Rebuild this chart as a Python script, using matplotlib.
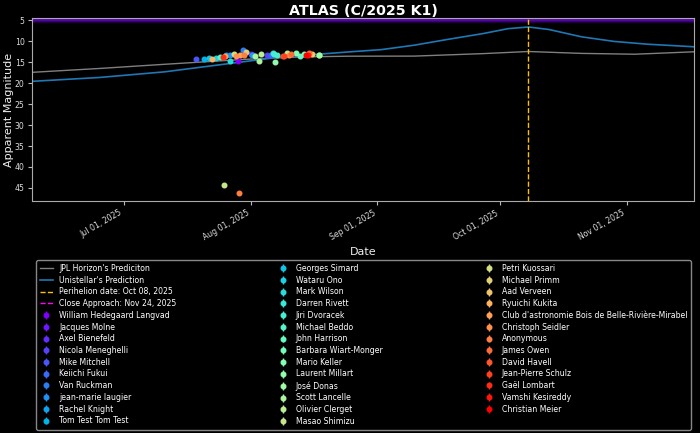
import matplotlib
matplotlib.use("Agg")
import matplotlib.pyplot as plt
import matplotlib.dates as mdates
import numpy as np
from datetime import datetime

# ---------------- data ----------------
jpl_dates = ["2025-06-08", "2025-06-25", "2025-07-11", "2025-07-31", "2025-08-13",
             "2025-08-25", "2025-09-10", "2025-09-27", "2025-10-08", "2025-10-21",
             "2025-11-03", "2025-11-18"]
jpl_mag = [17.45, 16.5, 15.5, 14.3, 13.75, 13.57, 13.55, 12.95, 12.45, 12.9, 13.1, 12.5]

uni_dates = ["2025-06-08", "2025-06-25", "2025-07-11", "2025-07-31", "2025-08-08",
             "2025-08-25", "2025-09-02", "2025-09-10", "2025-09-18", "2025-09-27",
             "2025-10-03", "2025-10-08", "2025-10-13", "2025-10-21", "2025-10-29",
             "2025-11-06", "2025-11-18"]
uni_mag = [19.6, 18.65, 17.3, 14.8, 13.8, 12.55, 12.0, 10.95, 9.6, 8.15,
           7.0, 6.6, 7.2, 8.95, 10.05, 10.7, 11.35]

perihelion = "2025-10-08"
close_approach = "2025-11-24"

observers = ["William Hedegaard Langvad", "Jacques Molne", "Axel Bienefeld",
             "Nicola Meneghelli", "Mike Mitchell", "Keiichi Fukui", "Van Ruckman",
             "jean-marie laugier", "Rachel Knight", "Tom Test Tom Test",
             "Georges Simard", "Wataru Ono", "Mark Wilson", "Darren Rivett",
             "Jiri Dvoracek", "Michael Beddo", "John Harrison", "Barbara Wiart-Monger",
             "Mario Keller", "Laurent Millart", "José Donas", "Scott Lancelle",
             "Olivier Clerget", "Masao Shimizu", "Petri Kuossari", "Michael Primm",
             "Aad Verveen", "Ryuichi Kukita",
             "Club d'astronomie Bois de Belle-Rivière-Mirabel", "Christoph Seidler",
             "Anonymous", "James Owen", "David Havell", "Jean-Pierre Schulz",
             "Gaël Lombart", "Vamshi Kesireddy", "Christian Meier"]

obs_dates = [
    ["2025-07-29"],
    ["2025-08-01"],
    ["2025-08-01 12:00"],
    ["2025-08-05"],
    ["2025-07-18 16:00"],
    ["2025-08-06"],
    ["2025-07-30 05:00"],
    ["2025-07-27", "2025-07-26"],
    ["2025-08-01 06:00"],
    ["2025-07-20 16:00"],
    ["2025-07-21 18:00"],
    ["2025-07-23 16:00"],
    ["2025-07-27 00:00"],
    ["2025-08-06 10:00"],
    ["2025-08-07 12:00", "2025-08-06 18:00"],
    ["2025-07-24 12:00"],
    ["2025-08-13"],
    ["2025-08-14", "2025-08-17 18:00"],
    ["2025-08-12"],
    ["2025-08-07"],
    ["2025-08-17 20:00"],
    ["2025-08-02", "2025-08-03"],
    ["2025-08-03 12:00"],
    ["2025-08-10", "2025-07-25 12:00"],
    ["2025-07-28"],
    ["2025-07-30 20:00"],
    ["2025-08-16"],
    ["2025-07-22 16:00"],
    ["2025-07-25 18:00", "2025-07-29 12:00"],
    ["2025-07-28 12:00", "2025-08-10 12:00"],
    ["2025-07-29 02:00", "2025-07-30 12:00"],
    ["2025-08-11", "2025-08-15 06:00"],
    ["2025-08-09"],
    ["2025-08-09 06:00"],
    ["2025-07-25 05:00"],
    ["2025-08-15"],
    ["2025-08-14 12:00"],
]
obs_mags = [
    [14.7], [12.95], [13.2], [13.3], [14.35], [13.3], [12.1], [13.4, 13.3], [13.4],
    [14.2], [14.05], [14.05], [14.7], [12.8], [13.3, 13.1], [13.7], [13.5],
    [13.1, 13.3], [12.9], [14.9], [13.2], [13.5, 14.7], [13.1], [12.9, 44.3],
    [13.0], [12.6], [13.0], [14.2], [13.6, 13.3], [13.5, 13.3], [46.2, 13.3],
    [13.1, 12.7], [13.5], [13.6], [13.7], [13.4], [13.3],
]
obs_err = 0.3

# ---------------- plot ----------------
plt.style.use("dark_background")
fig = plt.figure(figsize=(7, 4.33), dpi=100)
ax = fig.add_axes([0.046, 0.536, 0.945, 0.422])

to_dt = lambda s: np.array(s, dtype="datetime64[m]").astype(datetime)

x0 = datetime(2025, 6, 8, 14)
x1 = datetime(2025, 11, 17, 10)

# purple gradient band at the top
nrow = 40
t = np.linspace(0, 1, nrow)
prof = np.clip(t / 0.5, 0, 1) ** 1.3
grad = np.zeros((nrow, 1, 4))
grad[:, 0, 0] = 0.34 * prof
grad[:, 0, 1] = 0.02 * prof
grad[:, 0, 2] = 0.68 * prof
grad[:, 0, 3] = 1.0
ax.imshow(grad, extent=(mdates.date2num(x0), mdates.date2num(x1), 6.0, 4.5),
          origin="lower", aspect="auto", zorder=1, interpolation="bilinear")

h_jpl, = ax.plot(to_dt(jpl_dates), jpl_mag, color="#7f7f7f", lw=1.0,
                 label="JPL Horizon's Prediciton", zorder=2)
h_uni, = ax.plot(to_dt(uni_dates), uni_mag, color="#1f77b4", lw=1.2,
                 label="Unistellar's Prediction", zorder=2)
h_per = ax.axvline(to_dt([perihelion])[0], color="#ffc000", ls="--", lw=1.0,
                   label="Perihelion date: Oct 08, 2025")
h_ca = ax.axvline(to_dt([close_approach])[0], color="magenta", ls="--", lw=1.0,
                  label="Close Approach: Nov 24, 2025")

cmap = plt.get_cmap("rainbow")
n = len(observers)
handles = [h_jpl, h_uni, h_per, h_ca]
for i, name in enumerate(observers):
    c = cmap(i / (n - 1))
    eb = ax.errorbar(to_dt(obs_dates[i]), obs_mags[i], yerr=obs_err, fmt="o",
                     color=c, ms=3.3, elinewidth=1, label=name, zorder=3)
    handles.append(eb)

ax.set_xlim(x0, x1)
ax.set_ylim(48.1, 4.5)
ax.set_yticks([5, 10, 15, 20, 25, 30, 35, 40, 45])
ax.xaxis.set_major_locator(mdates.MonthLocator())
ax.xaxis.set_major_formatter(mdates.DateFormatter("%b %d, %Y"))
for lab in ax.get_xticklabels():
    lab.set_rotation(30)
    lab.set_ha("right")
ax.tick_params(labelsize=5.6, colors="#bbbbbb", labelcolor="#dddddd", length=3, pad=2.5)
for sp in ax.spines.values():
    sp.set_color("#aaaaaa")

ax.set_title("ATLAS (C/2025 K1)", fontsize=10.3, fontweight="bold", color="white", pad=2)
ax.set_ylabel("Apparent Magnitude", fontsize=8, color="#eeeeee")
ax.yaxis.set_label_coords(-0.027, 0.5)
ax.set_xlabel("Date", fontsize=8, color="#eeeeee", labelpad=3)

leg = fig.legend(handles=handles, labels=[h.get_label() for h in handles],
                 loc="upper left", bbox_to_anchor=(0.0514, 0.0, 0.9357, 0.3995),
                 mode="expand", borderaxespad=0, ncol=3,
                 fontsize=5.6, frameon=True, facecolor="black", edgecolor="#aaaaaa",
                 labelspacing=0.35, handlelength=1.7, handletextpad=0.75,
                 borderpad=0.5, fancybox=True)
for txt in leg.get_texts():
    txt.set_color("white")

fig.savefig("out.png", dpi=100, facecolor="black")
